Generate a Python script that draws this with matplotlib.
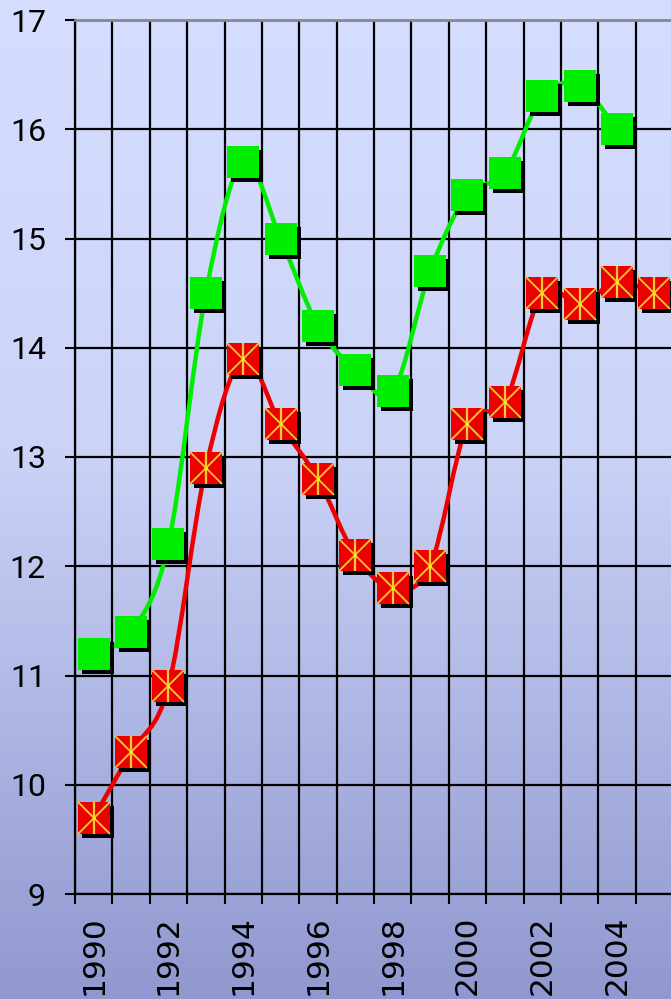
import numpy as np
import matplotlib
matplotlib.use('Agg')
import matplotlib.pyplot as plt
from matplotlib.path import Path
from matplotlib.patches import PathPatch
from matplotlib.colors import LinearSegmentedColormap
import matplotlib.transforms as mtransforms

plt.rcParams['font.family'] = ['Roboto', 'DejaVu Sans']

anos = list(range(1990, 2006))
verde = [11.2, 11.4, 12.2, 14.5, 15.7, 15.0, 14.2, 13.8, 13.6, 14.7,
         15.4, 15.6, 16.3, 16.4, 16.0]
vermelho = [9.7, 10.3, 10.9, 12.9, 13.9, 13.3, 12.8, 12.1, 11.8, 12.0,
            13.3, 13.5, 14.5, 14.4, 14.6, 14.5]
rotulos_x = [str(a) for a in anos[0:15:2]]


def curva_suave(x, y, k=1/6):
    # caminho de Bezier passando pelos pontos (suavizacao tipo planilha)
    x = np.asarray(x, float)
    y = np.asarray(y, float)
    verts = [(x[0], y[0])]
    codes = [Path.MOVETO]
    n = len(x)
    for i in range(n - 1):
        i0 = max(i - 1, 0)
        i3 = min(i + 2, n - 1)
        c1 = (x[i] + (x[i + 1] - x[i0]) * k, y[i] + (y[i + 1] - y[i0]) * k)
        c2 = (x[i + 1] - (x[i3] - x[i]) * k, y[i + 1] - (y[i3] - y[i]) * k)
        verts += [c1, c2, (x[i + 1], y[i + 1])]
        codes += [Path.CURVE4] * 3
    return Path(verts, codes)


fig = plt.figure(figsize=(6.71, 9.99), dpi=100)

# fundo em degrade
bg = fig.add_axes([0, 0, 1, 1], zorder=-10)
cmap = LinearSegmentedColormap.from_list(
    'fundo', [(0.0, '#D6DEFF'), (0.45, '#CBD3F8'), (1.0, '#9098CF')])
bg.imshow(np.linspace(0, 1, 256).reshape(-1, 1), aspect='auto', cmap=cmap,
          extent=[0, 1, 0, 1])
bg.axis('off')

ax = fig.add_axes([75 / 671, 105 / 999, 598 / 671, 874 / 999])
ax.set_facecolor('none')

x_v = np.arange(len(verde))
x_r = np.arange(len(vermelho))

ax.add_patch(PathPatch(curva_suave(x_v, verde), fill=False, ec='#00EE00',
                       lw=3.2, zorder=3, capstyle='round', joinstyle='round'))
ax.add_patch(PathPatch(curva_suave(x_r, vermelho), fill=False, ec='#EE0000',
                       lw=3.2, zorder=3, capstyle='round', joinstyle='round'))

sombra = mtransforms.offset_copy(ax.transData, fig, x=4, y=-4, units='dots')
ms = 22.5
ax.plot(x_v, verde, 's', ms=ms, color='black', mew=0, transform=sombra, zorder=4)
ax.plot(x_r, vermelho, 's', ms=ms, color='black', mew=0, transform=sombra, zorder=4)
ax.plot(x_v, verde, 's', ms=ms, color='#00EE00', mew=0, zorder=5)
ax.plot(x_r, vermelho, 's', ms=ms, color='#EE0000', mew=0, zorder=5)
ax.plot(x_r, vermelho, 'x', ms=ms, color='#F2CC30', mew=1.3, zorder=6)
ax.plot(x_r, vermelho, '|', ms=ms, color='#F2CC30', mew=1.6, zorder=6)
ax.plot(x_r, vermelho, '.', ms=4, color='#FFF200', mew=0, zorder=7)

ax.set_xlim(-0.5, 15.5)
ax.set_ylim(9, 17)

ax.set_xticks(np.arange(-0.5, 15.6, 1))
ax.set_xticklabels([])
ax.set_xticks(np.arange(0, 15, 2), minor=True)
ax.set_xticklabels(rotulos_x, minor=True, rotation=90, fontsize=22.5,
                   family=['DejaVu Sans'], va='top')
ax.tick_params(axis='x', which='major', length=7.5, width=1.5, color='black')
ax.tick_params(axis='x', which='minor', length=0, pad=15.5)
ax.set_yticks(range(9, 18))
ax.tick_params(axis='y', length=7, width=1.5, labelsize=23, pad=14)

ax.grid(True, which='major', color='black', lw=1.6)
ax.set_axisbelow(True)
for lado in ['left', 'bottom']:
    ax.spines[lado].set_linewidth(1.6)
    ax.spines[lado].set_color('black')
ax.spines['top'].set_color('#888888')
ax.spines['top'].set_linewidth(2)
ax.spines['right'].set_visible(False)

plt.savefig('out.png', dpi=100)
